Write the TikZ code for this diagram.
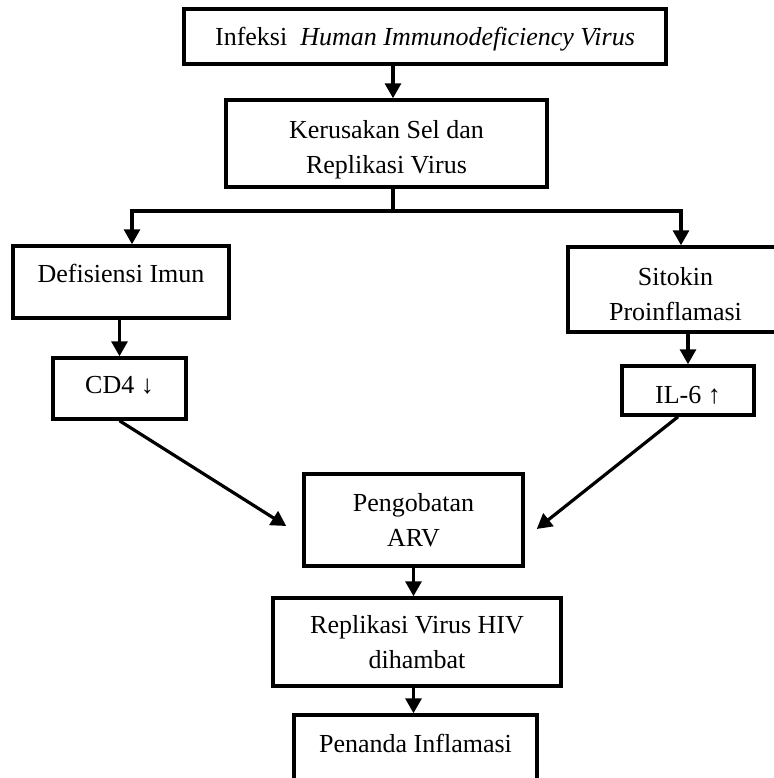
\documentclass[tikz,border=0pt]{standalone}
\usepackage{fontspec}
\setmainfont{Liberation Serif}
\usetikzlibrary{arrows.meta}

\begin{document}
\begin{tikzpicture}[x=0.5pt,y=-0.5pt,
    box/.style={draw,line width=1.75pt,align=center,inner sep=0pt,
        font=\fontsize{13pt}{17.5pt}\selectfont},
    arrow/.style={line width=1.6pt,-{Triangle[length=7.5pt,width=8pt]}}]

\useasboundingbox (0,0) rectangle (774,778);
\clip (0,0) rectangle (774,778);

\coordinate (bus) at (393,211);
\coordinate (busL) at (132,211);
\coordinate (busR) at (681,211);

\node[box,minimum width=241pt,minimum height=27.5pt,text height=9pt,text depth=0.5pt] (infeksi) at (425,36.5) {Infeksi\ \ \textit{Human Immunodeficiency Virus}};
\node[box,minimum width=160.5pt,minimum height=43.5pt,text height=32.3pt,text depth=2.8pt] (kerusakan) at (386.5,143.5) {Kerusakan Sel dan\\Replikasi Virus};
\node[box,minimum width=108pt,minimum height=36pt,text height=9pt,text depth=9pt] (defisiensi) at (121,282) {Defisiensi Imun};
\node[box,minimum width=107.5pt,minimum height=42.5pt,text height=33.3pt,text depth=2.8pt] (sitokin) at (675.5,289.5) {Sitokin\\Proinflamasi};
\node[box,minimum width=66.5pt,minimum height=30.5pt,text height=9pt,text depth=4.5pt] (cdfour) at (119.5,388.5) {CD4 ↓};
\node[box,minimum width=66pt,minimum height=24.5pt,text height=12.5pt,text depth=0pt] (ilsix) at (688,390.5) {IL-6 ↑};
\node[box,minimum width=109.5pt,minimum height=46pt] (pengobatan) at (413.5,520) {Pengobatan\\ARV};
\node[box,minimum width=144pt,minimum height=44pt] (replikasi) at (417,642) {Replikasi Virus HIV\\dihambat};
\node[box,minimum width=121.5pt,minimum height=37pt,text height=9pt,text depth=9pt] (penanda) at (415.5,752) {Penanda Inflamasi};

\draw[arrow] (infeksi.south -| bus) -- (kerusakan.north -| bus);
\draw[line width=1.6pt] (kerusakan.south -| bus) -- (bus);
\draw[arrow] (bus) -| (defisiensi.north -| busL);
\draw[arrow] (bus) -| (sitokin.north -| busR);

\draw[arrow] (defisiensi.south -| cdfour.north) -- (cdfour.north);
\draw[arrow] (sitokin.south -| ilsix.north) -- (ilsix.north);

\draw[arrow] (cdfour.south) -- ([xshift=-8pt,yshift=-3pt]pengobatan.west);
\draw[arrow] ([xshift=-5pt]ilsix.south) -- ([xshift=6pt,yshift=-4.5pt]pengobatan.east);

\draw[arrow] (pengobatan.south) -- (pengobatan.south |- replikasi.north);
\draw[arrow] (replikasi.south -| pengobatan.south) -- (penanda.north -| pengobatan.south);

\end{tikzpicture}
\end{document}
